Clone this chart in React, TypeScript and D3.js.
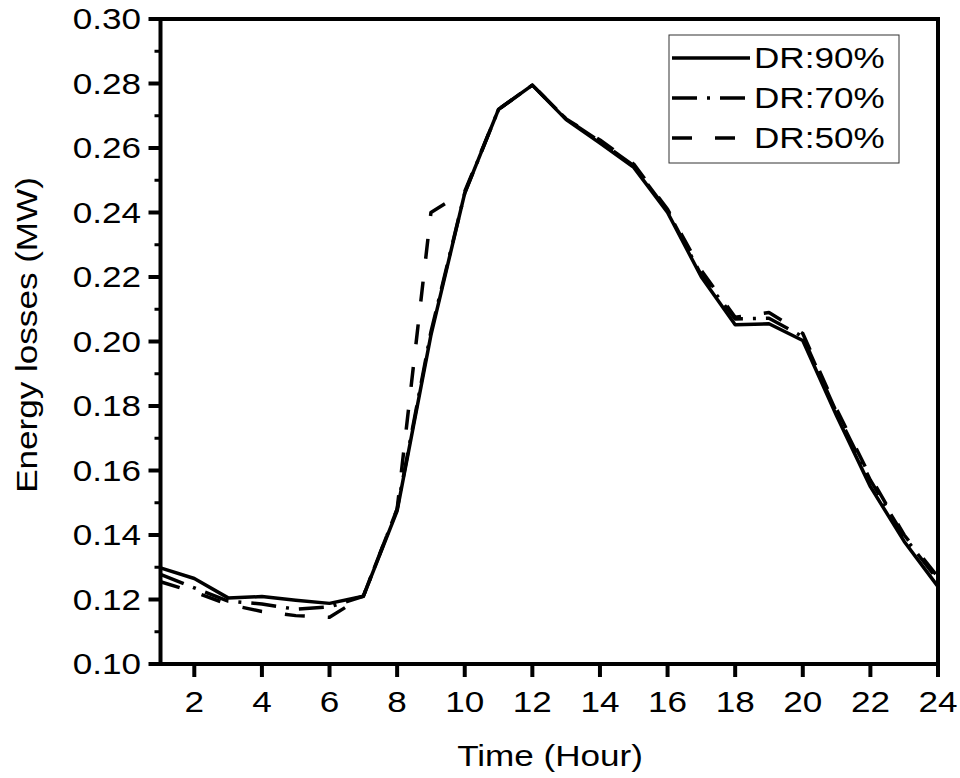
import React from "react";
import * as d3 from "d3";

const hours = d3.range(1, 25);
const dr90 = [0.1298, 0.1265, 0.1205, 0.1209, 0.1198, 0.1188, 0.121, 0.1475, 0.202, 0.246, 0.272, 0.2795, 0.2688, 0.2615, 0.254, 0.24, 0.22, 0.2052, 0.2055, 0.2003, 0.177, 0.155, 0.138, 0.124];
const dr70 = [0.1278, 0.1236, 0.1195, 0.1186, 0.117, 0.1177, 0.121, 0.148, 0.203, 0.246, 0.272, 0.2795, 0.269, 0.262, 0.2545, 0.2405, 0.2205, 0.207, 0.2072, 0.2015, 0.178, 0.157, 0.1395, 0.126];
const dr50 = [0.1255, 0.1223, 0.1185, 0.1163, 0.115, 0.1145, 0.121, 0.148, 0.24, 0.2465, 0.272, 0.2795, 0.269, 0.2625, 0.255, 0.241, 0.222, 0.2075, 0.209, 0.2025, 0.179, 0.158, 0.14, 0.127];
const xTicks = [2, 4, 6, 8, 10, 12, 14, 16, 18, 20, 22, 24];
const yMajor = [0.1, 0.12, 0.14, 0.16, 0.18, 0.2, 0.22, 0.24, 0.26, 0.28, 0.3];
const yMinor = [0.11, 0.13, 0.15, 0.17, 0.19, 0.21, 0.23, 0.25, 0.27, 0.29];
const seriesNames = ["DR:90%", "DR:70%", "DR:50%"];
const dashes = ["none", "25 10 3 10", "20 23"];

const FONT = "'Liberation Sans', Arial, sans-serif";
const SX = 1.17;

function T({ x, y, anchor = "middle", rotate = 0, children }: any) {
  return (
    <text
      transform={`translate(${x},${y}) rotate(${rotate}) scale(${SX},1)`}
      textAnchor={anchor}
      fontFamily={FONT}
      fontSize={30}
      fill="#000"
    >
      {children}
    </text>
  );
}

export default function App() {
  const x = d3.scaleLinear().domain([1, 24]).range([160.5, 938]);
  const y = d3.scaleLinear().domain([0.1, 0.3]).range([664, 19]);
  const line = d3
    .line<number>()
    .x((_, i) => x(hours[i]))
    .y((d) => y(d));
  const series = [dr90, dr70, dr50];
  const L = x.range()[0];
  const R = x.range()[1];
  const B = y.range()[0];
  const Tp = y.range()[1];

  return (
    <svg
      width={960}
      height={778}
      style={{ position: "absolute", left: 0, top: 0, background: "#fff" }}
    >
      <rect x={0} y={0} width={960} height={778} fill="#fff" />
      {series.map((s, i) => (
        <path
          key={i}
          d={line(s) || ""}
          fill="none"
          stroke="#000"
          strokeWidth={3.5}
          strokeDasharray={dashes[i]}
          strokeLinejoin="round"
        />
      ))}
      {/* frame */}
      <rect x={L} y={Tp} width={R - L} height={B - Tp} fill="none" stroke="#000" strokeWidth={4} />
      {/* y ticks */}
      {yMajor.map((v) => (
        <g key={"ym" + v}>
          <line x1={L - 12} x2={L} y1={y(v)} y2={y(v)} stroke="#000" strokeWidth={4} />
          <T x={141} y={y(v) + 10} anchor="end">{v.toFixed(2)}</T>
        </g>
      ))}
      {yMinor.map((v) => (
        <line key={"yn" + v} x1={L - 6} x2={L} y1={y(v)} y2={y(v)} stroke="#000" strokeWidth={3} />
      ))}
      {/* x ticks */}
      {xTicks.map((v) => (
        <g key={"x" + v}>
          <line x1={x(v)} x2={x(v)} y1={B} y2={B + 13} stroke="#000" strokeWidth={4} />
          <T x={x(v)} y={712}>{String(v)}</T>
        </g>
      ))}
      {/* axis titles */}
      <T x={550} y={766}>Time (Hour)</T>
      <T x={37} y={335} rotate={-90}>Energy losses (MW)</T>
      {/* legend */}
      <rect x={669} y={35} width={230} height={128} fill="#fff" stroke="#333" strokeWidth={1} />
      {seriesNames.map((n, i) => (
        <g key={n}>
          <line
            x1={672}
            x2={750}
            y1={58 + i * 40}
            y2={58 + i * 40}
            stroke="#000"
            strokeWidth={3.5}
            strokeDasharray={dashes[i]}
          />
          <T x={754} y={68 + i * 40} anchor="start">{n}</T>
        </g>
      ))}
    </svg>
  );
}
